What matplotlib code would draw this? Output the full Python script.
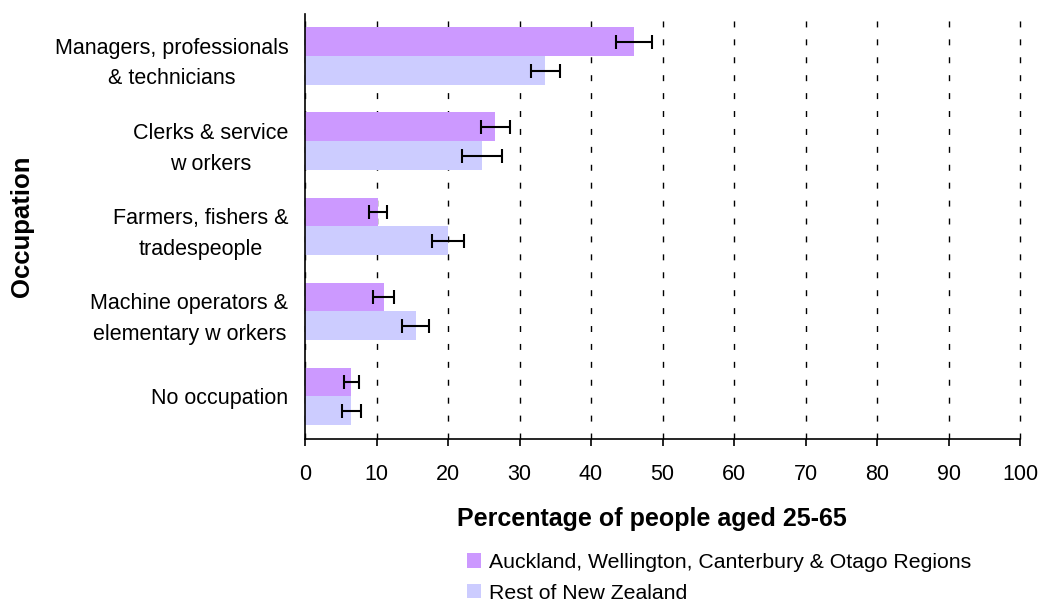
import matplotlib.pyplot as plt
import numpy as np
from matplotlib.patches import Patch

plt.rcParams['font.family'] = ['Liberation Sans', 'DejaVu Sans']

# data
occupations = ['Managers, professionals\n& technicians',
               'Clerks & service\nw orkers',
               'Farmers, fishers &\ntradespeople',
               'Machine operators &\nelementary w orkers',
               'No occupation']
main_regions = [46.0, 26.6, 10.2, 11.0, 6.5]
main_err = [2.5, 2.0, 1.2, 1.5, 1.1]
rest_nz = [33.6, 24.8, 20.0, 15.5, 6.5]
rest_err = [2.0, 2.8, 2.2, 1.9, 1.3]
series_names = ['Auckland, Wellington, Canterbury & Otago Regions', 'Rest of New Zealand']

fig = plt.figure(figsize=(10.42, 6.03), dpi=100)
ax = fig.add_axes([0.2927, 0.272, 0.979 - 0.2927, 0.977 - 0.272])

y = np.arange(len(occupations))
h = 0.34
c1 = '#CC99FF'
c2 = '#CCCCFF'
ax.barh(y - h / 2, main_regions, height=h, color=c1, zorder=2)
ax.barh(y + h / 2, rest_nz, height=h, color=c2, zorder=2)
ax.errorbar(main_regions, y - h / 2, xerr=main_err, fmt='none', ecolor='black',
            elinewidth=1.5, capsize=4.7, capthick=1.5, zorder=3)
ax.errorbar(rest_nz, y + h / 2, xerr=rest_err, fmt='none', ecolor='black',
            elinewidth=1.5, capsize=4.7, capthick=1.5, zorder=3)

ax.set_ylim(len(occupations) - 0.5, -0.5)
ax.set_xlim(0, 100)
ax.set_xticks(np.arange(0, 101, 10))
ax.set_yticks(y)
ax.set_yticklabels(occupations, fontsize=15.5, ha='right', multialignment='center',
                   linespacing=1.6)
for lbl in ax.get_yticklabels():
    lbl.set_y(lbl.get_position()[1])
ax.tick_params(axis='y', length=0, pad=12)
ax.tick_params(axis='x', labelsize=15.5, length=5, direction='out', pad=13, width=1.2)
ax.xaxis.grid(True, linestyle=(0, (4.3, 8.6)), color='black', linewidth=1)
for line in ax.get_xgridlines():
    line.set_clip_on(False)
ax.set_axisbelow(True)
for s in ['top', 'right']:
    ax.spines[s].set_visible(False)
for s in ['left', 'bottom']:
    ax.spines[s].set_linewidth(1.2)

ax.set_xlabel('Percentage of people aged 25-65', fontsize=18, fontweight='bold')
ax.xaxis.set_label_coords(0.485, -0.16)
fig.text(0.021, 0.625, 'Occupation', rotation=90, fontsize=18.5, fontweight='bold',
         ha='center', va='center')

handles = [Patch(facecolor=c1), Patch(facecolor=c2)]
fig.legend(handles, series_names, loc='upper left', bbox_to_anchor=(0.448, 0.083),
           frameon=False, fontsize=15.3, handlelength=0.65, handleheight=0.65,
           handletextpad=0.4, labelspacing=0.55, borderaxespad=0, borderpad=0)

fig.savefig('out.png', dpi=100)
